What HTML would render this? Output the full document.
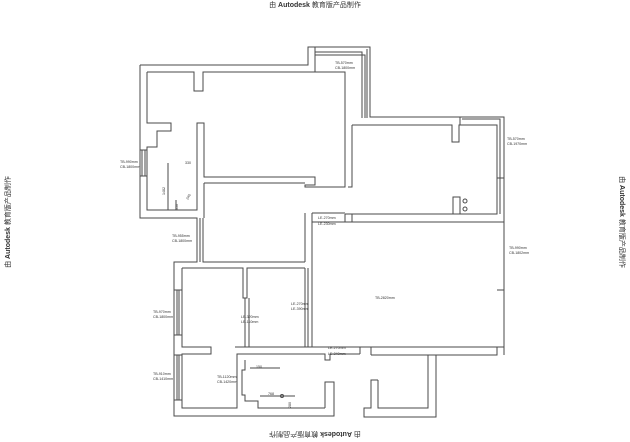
<!DOCTYPE html>
<html><head><meta charset="utf-8"><style>
html,body{margin:0;padding:0;background:#fff;width:630px;height:442px;overflow:hidden}
svg{display:block}
.w{fill:none;stroke:#4a4a4a;stroke-width:1}
text{font-family:"Liberation Sans","Noto Sans CJK SC",sans-serif;fill:#333}
.s{font-size:3.6px}
.wm{font-size:7px}
</style></head><body>
<svg width="630" height="442" viewBox="0 0 630 442">
<text class="wm" x="315" y="7" text-anchor="middle">由 <tspan font-weight="bold">Autodesk</tspan> 教育版产品制作</text>
<text class="wm" x="315" y="436" text-anchor="middle" transform="rotate(180 315 434)">由 <tspan font-weight="bold">Autodesk</tspan> 教育版产品制作</text>
<text class="wm" x="10" y="222" text-anchor="middle" transform="rotate(-90 10 222)">由 <tspan font-weight="bold">Autodesk</tspan> 教育版产品制作</text>
<text class="wm" x="620" y="222" text-anchor="middle" transform="rotate(90 620 222)">由 <tspan font-weight="bold">Autodesk</tspan> 教育版产品制作</text>

<g class="w">
<polyline points="140,65 308,65 308,47 370,47 370,117 504,117 504,355"/>
<polyline points="140,65 140,218 197,218 197,262 174,262 174,416 334,416 334,382 325,382 325,408"/>
<polyline points="147,72 194,72 194,91 203,91 203,72 345,72 345,177"/>
<polyline points="147,72 147,123 171,123 171,131 157,131 157,147 147,147 147,210 197,210 197,123 204,123 204,177 315,177 315,185 305,185 305,187 345,187 345,177"/>
<polyline points="204,183 204,218"/>
<polyline points="204,183 305,183"/>
<polyline points="315,52 362,52 362,118"/>
<polyline points="315,55 365,55 365,118"/>
<polyline points="367,49 367,118"/>
<line x1="315" y1="47" x2="315" y2="72"/>
<line x1="140" y1="150" x2="147" y2="150"/><line x1="140" y1="176" x2="147" y2="176"/>
<line x1="142" y1="150" x2="142" y2="176"/><line x1="145" y1="150" x2="145" y2="176"/>
<polyline points="345,117 345,187"/>
<polyline points="352,125 452,125 452,142 459,142 459,125 497,125 497,214 460,214 460,197 453,197 453,214 352,214 352,222"/>
<polyline points="352,125 352,187 348,187"/>
<polyline points="460,117 460,125"/>
<polyline points="462,119 500,119 500,214"/>
<line x1="497" y1="178" x2="504" y2="178"/>
<line x1="497" y1="290" x2="504" y2="290"/>
<line x1="345" y1="214" x2="497" y2="214"/>
<polyline points="345,214 345,222 504,222"/>
<line x1="312" y1="213" x2="345" y2="213"/>
<line x1="312" y1="222" x2="345" y2="222"/>
<polyline points="305,213 305,262"/>
<polyline points="312,213 312,347"/>
<line x1="308" y1="268" x2="308" y2="347"/>
<line x1="305" y1="268" x2="305" y2="347"/>
<polyline points="203,218 203,262 305,262"/>
<line x1="197" y1="218" x2="197" y2="262"/>
<line x1="200" y1="218" x2="200" y2="262"/>
<polyline points="182,268 243,268 243,298 247,298 247,268 305,268"/>
<polyline points="182,268 182,347 211,347 211,354 182,354 182,408 237,408 237,354 325,354 325,360 330,360 330,354 360,354"/>
<polyline points="235,347 360,347"/>
<line x1="245" y1="298" x2="245" y2="347"/><line x1="249" y1="298" x2="249" y2="347"/>
<polyline points="245,360 245,370 242,370 242,395 245,395 245,401 258,401 258,408 325,408"/>
<line x1="174" y1="290" x2="182" y2="290"/><line x1="174" y1="335" x2="182" y2="335"/>
<line x1="177" y1="290" x2="177" y2="335"/><line x1="179" y1="290" x2="179" y2="335"/>
<line x1="174" y1="355" x2="182" y2="355"/><line x1="174" y1="400" x2="182" y2="400"/>
<line x1="177" y1="355" x2="177" y2="400"/><line x1="179" y1="355" x2="179" y2="400"/>
<polyline points="360,347 504,347"/>
<polyline points="371,355 497,355 497,347"/>
<polyline points="371,347 371,355"/>
<polyline points="378,380 378,408 428,408 428,355"/>
<polyline points="436,355 436,417 364,417 364,408 371,408 371,380 378,380"/>
<line x1="360" y1="347" x2="360" y2="354"/>
<circle cx="465" cy="201" r="2"/><circle cx="465" cy="209" r="2"/>
<line x1="168" y1="163" x2="168" y2="210"/>
<line x1="176" y1="200" x2="176" y2="210"/>
<line x1="260" y1="396" x2="295" y2="396"/>
<circle cx="282" cy="396" r="1.5"/>
<line x1="250" y1="368" x2="280" y2="368"/>
</g>
<g>
<text class="s" x="335" y="64">TB-570mm</text><text class="s" x="335" y="69">CB-1800mm</text>
<text class="s" x="507" y="140">TB-570mm</text><text class="s" x="507" y="145">CB-1970mm</text>
<text class="s" x="120" y="163">TB-990mm</text><text class="s" x="120" y="168">CB-1800mm</text>
<text class="s" x="318" y="219">LE-270mm</text><text class="s" x="318" y="225">LE-230mm</text>
<text class="s" x="172" y="237">TB-955mm</text><text class="s" x="172" y="242">CB-1800mm</text>
<text class="s" x="509" y="249">TB-990mm</text><text class="s" x="509" y="254">CB-1802mm</text>
<text class="s" x="291" y="305">LE-270mm</text><text class="s" x="291" y="310">LE-390mm</text>
<text class="s" x="375" y="299">TB-2820mm</text>
<text class="s" x="241" y="318">LE-320mm</text><text class="s" x="241" y="323">LE-110mm</text>
<text class="s" x="153" y="313">TB-970mm</text><text class="s" x="153" y="318">CB-1800mm</text>
<text class="s" x="328" y="349">LE-270mm</text><text class="s" x="328" y="355">LE-240mm</text>
<text class="s" x="153" y="375">TB-910mm</text><text class="s" x="153" y="380">CB-1410mm</text>
<text class="s" x="217" y="378">TB-1120mm</text><text class="s" x="217" y="383">CB-1420mm</text>
<text class="s" x="185" y="164">330</text>
<text class="s" x="165" y="195" transform="rotate(-90 165 195)">1482</text>
<text class="s" x="188" y="200" transform="rotate(-60 188 200)">240</text>
<text class="s" x="178" y="210" transform="rotate(-90 178 210)">350</text>
<text class="s" x="256" y="368">150</text>
<text class="s" x="268" y="395">768</text>
<text class="s" x="291" y="408" transform="rotate(-90 291 408)">280</text>
</g>
</svg>
</body></html>
